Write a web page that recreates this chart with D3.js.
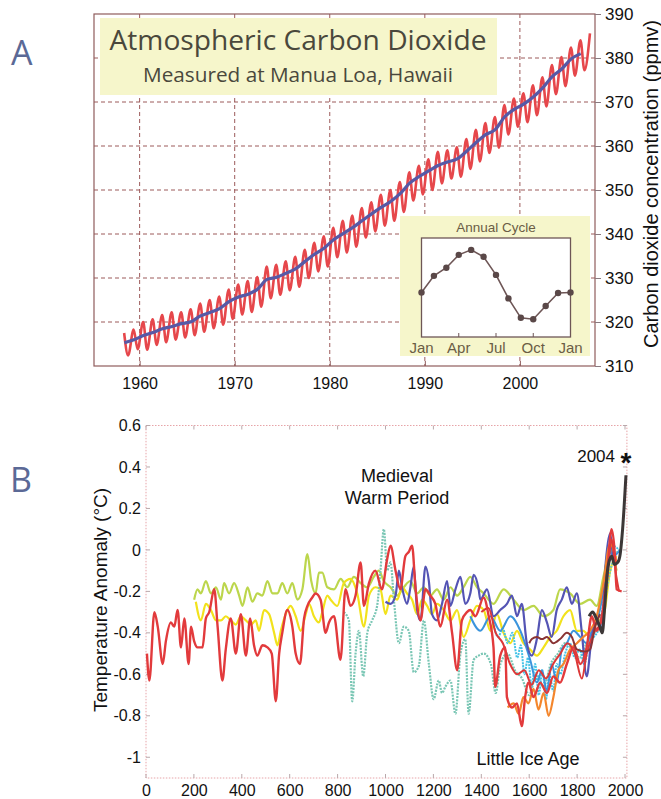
<!DOCTYPE html>
<html>
<head>
<meta charset="utf-8">
<script src="https://cdn.jsdelivr.net/npm/d3@7"></script>
<style>
body { margin: 0; background: #fff; }
svg text { font-family: "Liberation Sans", Arial, sans-serif; }
</style>
</head>
<body>
<div id="chart"></div>
<script>
// ---------- panel A data (Mauna Loa CO2, ppmv) ----------
let co2Years = [1958,1959,1960,1961,1962,1963,1964,1965,1966,1967,1968,1969,1970,1971,1972,1973,1974,1975,1976,1977,
    1978,1979,1980,1981,1982,1983,1984,1985,1986,1987,1988,1989,1990,1991,1992,1993,1994,1995,1996,1997,
    1998,1999,2000,2001,2002,2003,2004,2005,2006];
let co2Annual = [315.3,315.97,316.91,317.64,318.45,318.99,319.62,320.04,321.38,322.16,323.04,324.62,325.68,326.32,327.45,329.68,330.18,331.08,332.05,333.78,
    335.41,336.78,338.68,340.10,341.44,343.03,344.58,346.04,347.39,349.16,351.56,353.07,354.35,355.57,356.38,357.07,358.82,360.80,362.59,363.71,
    366.65,368.33,369.52,371.13,373.22,375.77,377.49,379.80,381.00];

// seasonal high (May) and low (Oct) of the monthly record
let seasonYears = [1958,1959,1960,1961,1962,1963,1964,1965,1966,1967,1968,1969,1970,1971,1972,1973,1974,1975,1976,1977,
    1978,1979,1980,1981,1982,1983,1984,1985,1986,1987,1988,1989,1990,1991,1992,1993,1994,1995,1996,1997,
    1998,1999,2000,2001,2002,2003,2004,2005,2006,2007];
let seasonHigh = [317.5,318.3,320.0,320.6,321.6,322.2,322.2,322.9,324.2,325.0,325.8,327.4,328.5,329.3,330.2,332.6,333.0,333.8,334.8,336.4,
    338.0,339.5,341.4,343.0,344.2,345.9,347.2,348.9,350.0,351.8,354.0,355.5,357.0,358.7,359.0,359.7,361.6,363.7,365.2,366.6,
    369.3,370.8,372.0,373.8,375.6,378.4,380.2,382.4,384.0,385.6];
let seasonLow = [312.4,313.8,313.7,314.8,315.4,316.0,316.5,317.0,317.8,318.6,319.4,320.7,321.7,322.3,323.5,325.4,326.2,327.2,328.0,330.0,
    331.5,332.6,334.7,335.8,337.1,339.2,340.6,341.9,343.0,345.0,347.6,349.0,350.0,351.5,352.6,353.0,354.8,356.5,358.4,359.6,
    362.6,364.4,365.4,367.0,369.0,371.8,373.6,376.0,377.2,null];

let co2Ticks = [310,320,330,340,350,360,370,380,390];
let yearTicks = [1960,1970,1980,1990,2000];

// annual cycle inset (ppmv anomaly, Jan .. next Jan)
let cycleMonths = [0,1,2,3,4,5,6,7,8,9,10,11,12];
let cycleValues = [-0.4,0.94,1.6,2.64,3.04,2.48,1.02,-0.88,-2.45,-2.56,-1.49,-0.45,-0.4];
let cycleLabels = ["Jan","Apr","Jul","Oct","Jan"];
let cycleLabelMonths = [0,3,6,9,12];

// ---------- panel B data (temperature anomaly, deg C) ----------
let yellowGreen = [[201,-0.24],[215,-0.19],[229,-0.21],[250,-0.15],[271,-0.21],[292,-0.18],[313,-0.24],[326,-0.16],[347,-0.21],[368,-0.16],
    [389,-0.22],[403,-0.27],[424,-0.18],[444,-0.25],[465,-0.21],[486,-0.22],[507,-0.15],[528,-0.21],[549,-0.21],[569,-0.16],
    [590,-0.21],[611,-0.16],[632,-0.24],[653,-0.19],[674,-0.02],[690,-0.15],[708,-0.21],[722,-0.11],[736,-0.11],[757,-0.18],
    [785,-0.19],[813,-0.14],[840,-0.18],[868,-0.13],[896,-0.16],[924,-0.18],[951,-0.13],[972,-0.10],[993,-0.15],[1021,-0.18],
    [1049,-0.22],[1076,-0.18],[1104,-0.15],[1132,-0.21],[1160,-0.18],[1188,-0.22],[1215,-0.19],[1243,-0.24],[1271,-0.18],[1299,-0.22],
    [1326,-0.18],[1354,-0.13],[1382,-0.18],[1410,-0.21],[1451,-0.26],[1493,-0.19],[1535,-0.24],[1576,-0.29],[1618,-0.27],[1660,-0.32],
    [1701,-0.29],[1729,-0.19],[1771,-0.21],[1813,-0.26],[1854,-0.24],[1882,-0.27],[1910,-0.13],[1938,0.0],[1965,-0.10]];
let yellow = [[208,-0.25],[229,-0.34],[250,-0.26],[271,-0.29],[292,-0.34],[313,-0.34],[333,-0.32],[354,-0.34],[375,-0.36],[396,-0.32],
    [417,-0.34],[438,-0.36],[458,-0.34],[472,-0.39],[493,-0.29],[514,-0.31],[535,-0.40],[549,-0.46],[563,-0.39],[583,-0.31],
    [604,-0.27],[625,-0.32],[646,-0.39],[667,-0.31],[681,-0.26],[701,-0.32],[722,-0.35],[736,-0.30],[757,-0.22],[771,-0.24],
    [799,-0.27],[826,-0.16],[854,-0.14],[882,-0.21],[910,-0.37],[931,-0.22],[958,-0.18],[979,-0.19],[1000,-0.31],[1021,-0.22],
    [1049,-0.24],[1069,-0.18],[1090,-0.21],[1111,-0.24],[1132,-0.31],[1153,-0.24],[1174,-0.27],[1194,-0.31],[1215,-0.26],[1243,-0.29],
    [1271,-0.34],[1299,-0.29],[1326,-0.42],[1354,-0.34],[1382,-0.27],[1410,-0.29],[1438,-0.39],[1465,-0.31],[1493,-0.40],[1521,-0.45],
    [1549,-0.39],[1576,-0.45],[1604,-0.48],[1632,-0.51],[1660,-0.47],[1688,-0.42],[1715,-0.39],[1743,-0.32],[1771,-0.29],[1799,-0.39],
    [1826,-0.39],[1854,-0.42],[1882,-0.35],[1910,-0.32],[1938,-0.10],[1965,-0.03]];
let teal = [[826,-0.30],[847,-0.34],[861,-0.73],[875,-0.50],[889,-0.39],[907,-0.61],[924,-0.40],[944,-0.34],[965,-0.27],[979,-0.10],
    [993,0.10],[1007,-0.10],[1021,-0.06],[1035,-0.24],[1056,-0.45],[1076,-0.37],[1097,-0.39],[1118,-0.59],[1139,-0.56],[1160,-0.34],
    [1181,-0.55],[1201,-0.72],[1222,-0.63],[1236,-0.69],[1250,-0.66],[1271,-0.63],[1292,-0.79],[1313,-0.50],[1333,-0.43],[1347,-0.79],
    [1368,-0.53],[1389,-0.51],[1410,-0.50],[1440,-0.55],[1460,-0.69],[1480,-0.55],[1510,-0.50],[1540,-0.58],[1570,-0.62],[1600,-0.70],
    [1630,-0.60],[1660,-0.66],[1690,-0.55],[1720,-0.50],[1750,-0.45],[1780,-0.48],[1810,-0.52],[1840,-0.45],[1870,-0.40],[1900,-0.38],
    [1925,-0.18],[1950,-0.05],[1978,0.0]];
let cyan = [[1450,-0.35],[1470,-0.42],[1490,-0.38],[1510,-0.45],[1530,-0.40],[1550,-0.52],[1565,-0.46],[1580,-0.60],[1595,-0.52],[1610,-0.66],
    [1625,-0.55],[1640,-0.70],[1655,-0.58],[1670,-0.72],[1685,-0.60],[1700,-0.68],[1715,-0.55],[1730,-0.60],[1750,-0.50],[1770,-0.45],
    [1790,-0.52],[1810,-0.48],[1830,-0.55],[1850,-0.45],[1870,-0.42],[1890,-0.38],[1910,-0.25],[1930,-0.05],[1950,0.02],[1975,0.0]];
let lightBlue = [[1354,-0.32],[1396,-0.39],[1438,-0.32],[1479,-0.39],[1521,-0.32],[1563,-0.39],[1604,-0.53],[1632,-0.64],[1653,-0.58],[1674,-0.68],
    [1694,-0.55],[1715,-0.64],[1736,-0.48],[1757,-0.45],[1785,-0.39],[1813,-0.42],[1840,-0.45],[1861,-0.39],[1889,-0.32],[1910,-0.19],
    [1931,0.0],[1951,-0.03],[1979,0.0]];
let purple = [[1000,-0.25],[1021,-0.26],[1042,-0.22],[1056,-0.10],[1069,-0.18],[1090,-0.26],[1104,-0.18],[1118,-0.08],[1132,-0.29],[1146,-0.34],
    [1167,-0.08],[1181,-0.15],[1194,-0.31],[1215,-0.34],[1236,-0.26],[1257,-0.15],[1271,-0.27],[1292,-0.19],[1313,-0.13],[1333,-0.26],
    [1354,-0.21],[1368,-0.12],[1389,-0.19],[1396,-0.24],[1424,-0.19],[1451,-0.32],[1479,-0.29],[1507,-0.26],[1528,-0.22],[1549,-0.32],
    [1569,-0.26],[1590,-0.45],[1611,-0.51],[1632,-0.43],[1653,-0.29],[1674,-0.35],[1694,-0.42],[1715,-0.29],[1736,-0.24],[1757,-0.18],
    [1778,-0.26],[1799,-0.21],[1819,-0.39],[1840,-0.61],[1861,-0.42],[1882,-0.35],[1903,-0.39],[1917,-0.10],[1938,0.08],[1951,-0.03],
    [1972,-0.06]];
let orange = [[1510,-0.76],[1535,-0.74],[1556,-0.79],[1576,-0.71],[1597,-0.74],[1618,-0.67],[1639,-0.77],[1660,-0.69],[1681,-0.80],[1701,-0.71],
    [1722,-0.58],[1743,-0.55],[1771,-0.48],[1799,-0.45],[1826,-0.42],[1854,-0.39],[1882,-0.32],[1910,-0.16],[1938,0.03],[1965,-0.06]];
let red2 = [[1400,-0.30],[1430,-0.28],[1460,-0.40],[1490,-0.45],[1520,-0.55],[1550,-0.60],[1580,-0.58],[1610,-0.65],[1640,-0.58],[1670,-0.62],
    [1700,-0.55],[1730,-0.50],[1760,-0.45],[1790,-0.50],[1820,-0.62],[1840,-0.50],[1870,-0.40],[1900,-0.35],[1925,-0.15],[1945,0.05],
    [1960,-0.10],[1975,-0.20]];
let red = [[4,-0.50],[14,-0.63],[35,-0.30],[49,-0.37],[70,-0.55],[83,-0.44],[104,-0.35],[118,-0.37],[132,-0.29],[146,-0.47],
    [160,-0.33],[178,-0.55],[188,-0.37],[201,-0.44],[215,-0.47],[236,-0.47],[250,-0.33],[264,-0.30],[285,-0.19],[299,-0.37],
    [319,-0.63],[333,-0.48],[354,-0.33],[375,-0.50],[396,-0.31],[417,-0.51],[435,-0.33],[451,-0.46],[465,-0.51],[486,-0.46],
    [507,-0.47],[525,-0.50],[542,-0.73],[556,-0.50],[569,-0.40],[590,-0.29],[611,-0.37],[625,-0.50],[643,-0.55],[660,-0.33],
    [674,-0.27],[694,-0.23],[708,-0.21],[729,-0.24],[750,-0.40],[764,-0.35],[785,-0.32],[812,-0.53],[833,-0.19],[854,-0.27],
    [875,-0.22],[896,-0.06],[910,-0.27],[931,-0.16],[958,-0.10],[985,-0.19],[1006,-0.05],[1021,0.02],[1042,-0.10],[1062,-0.19],
    [1083,-0.03],[1097,-0.01],[1111,0.02],[1125,-0.18],[1146,-0.34],[1167,-0.19],[1187,-0.22],[1208,-0.26],[1229,-0.37],[1257,-0.24],
    [1278,-0.40],[1299,-0.58],[1319,-0.34],[1340,-0.30],[1354,-0.29],[1375,-0.32],[1410,-0.23],[1431,-0.32],[1451,-0.47],[1458,-0.66],
    [1479,-0.51],[1500,-0.47],[1507,-0.71],[1528,-0.76],[1549,-0.74],[1569,-0.85],[1583,-0.71],[1597,-0.64],[1618,-0.71],[1646,-0.64],
    [1674,-0.69],[1701,-0.61],[1729,-0.64],[1757,-0.55],[1785,-0.47],[1813,-0.55],[1840,-0.47],[1861,-0.32],[1882,-0.39],[1903,-0.32],
    [1924,-0.13],[1944,0.10],[1958,-0.03],[1965,-0.19],[1986,-0.20]];
let darkBrown = [[1600,-0.45],[1611,-0.43],[1632,-0.42],[1653,-0.43],[1674,-0.42],[1701,-0.45],[1729,-0.43],[1757,-0.40],[1778,-0.42],[1799,-0.48],
    [1833,-0.49],[1854,-0.48],[1875,-0.37],[1896,-0.31]];
let instrumental = [[1850,-0.32],[1865,-0.30],[1880,-0.33],[1895,-0.37],[1905,-0.40],[1915,-0.28],[1925,-0.12],[1935,-0.05],[1945,-0.03],[1955,-0.07],
    [1970,-0.06],[1980,-0.02],[1990,0.10],[2004,0.36]];

let tempTicks = [0.6,0.4,0.2,0,-0.2,-0.4,-0.6,-0.8,-1];
let tempTickLabels = ["0.6","0.4","0.2","0","-0.2","-0.4","-0.6","-0.8","-1"];
let milleniumTicks = [0,200,400,600,800,1000,1200,1400,1600,1800,2000];

let svg = d3.select("#chart")
    .append("svg")
    .attr("width", 661)
    .attr("height", 799);

// =================== panel A ===================
let xA = d3.scaleLinear().domain([1955.2, 2007.9]).range([94, 595]);
let yA = d3.scaleLinear().domain([310, 390]).range([366, 14]);

svg.append("text")
    .attr("x", 11).attr("y", 65)
    .style("font-family", "'Open Sans', sans-serif")
    .style("font-size", "34px")
    .attr("fill", "#5b6996")
    .text("A");

// dashed grid
yearTicks.forEach(t =>
    svg.append("line")
    .attr("x1", xA(t)).attr("x2", xA(t))
    .attr("y1", yA(390)).attr("y2", yA(310))
    .attr("stroke", "#9c5a5a")
    .attr("stroke-dasharray", "4,3")
    .attr("stroke-width", 1)
);
co2Ticks.slice(1, -1).forEach(t =>
    svg.append("line")
    .attr("x1", xA.range()[0]).attr("x2", xA.range()[1])
    .attr("y1", yA(t)).attr("y2", yA(t))
    .attr("stroke", "#9c5a5a")
    .attr("stroke-dasharray", "4,3")
    .attr("stroke-width", 1)
);

// title box
svg.append("rect")
    .attr("x", 100).attr("y", 18)
    .attr("width", 397).attr("height", 77)
    .attr("fill", "#f6f6cb");
svg.append("text")
    .attr("x", 298).attr("y", 50)
    .attr("text-anchor", "middle")
    .style("font-family", "'Open Sans', sans-serif")
    .style("font-size", "27px")
    .attr("fill", "#4a483c")
    .attr("textLength", 377)
    .attr("lengthAdjust", "spacingAndGlyphs")
    .text("Atmospheric Carbon Dioxide");
svg.append("text")
    .attr("x", 298).attr("y", 82)
    .attr("text-anchor", "middle")
    .style("font-family", "'Open Sans', sans-serif")
    .style("font-size", "20px")
    .attr("fill", "#4a483c")
    .attr("textLength", 310)
    .attr("lengthAdjust", "spacingAndGlyphs")
    .text("Measured at Manua Loa, Hawaii");

// frame
svg.append("rect")
    .attr("x", xA.range()[0]).attr("y", yA(390))
    .attr("width", xA.range()[1] - xA.range()[0])
    .attr("height", yA(310) - yA(390))
    .attr("fill", "none")
    .attr("stroke", "#8f5c5c")
    .attr("stroke-width", 1.2);

// monthly record (seasonal zigzag)
let redPts = [];
seasonYears.forEach((yr, i) => {
    redPts.push([yr + 0.37, seasonHigh[i]]);
    if (seasonLow[i] != null) redPts.push([yr + 0.79, seasonLow[i]]);
});
let lineA = d3.line()
    .x(d => xA(d[0]))
    .y(d => yA(d[1]))
    .curve(d3.curveMonotoneX);

svg.append("path")
    .datum(redPts)
    .attr("d", lineA)
    .attr("fill", "none")
    .attr("stroke", "#e6474b")
    .attr("stroke-width", 2.6)
    .attr("stroke-linejoin", "round");

svg.append("path")
    .datum(co2Years.map((yr, i) => [yr + 0.4, co2Annual[i]]))
    .attr("d", lineA)
    .attr("fill", "none")
    .attr("stroke", "#5759a6")
    .attr("stroke-width", 3.2)
    .attr("stroke-linejoin", "round");

// axes
let axisRightA = svg.append("g")
    .attr("transform", "translate(" + xA.range()[1] + ",0)")
    .call(d3.axisRight(yA).tickValues(co2Ticks).tickSize(6).tickPadding(4));
axisRightA.select(".domain").remove();
axisRightA.selectAll("line").attr("stroke", "#8a7a80");
axisRightA.selectAll("text")
    .style("font-size", "17px")
    .attr("fill", "#111");

let axisBottomA = svg.append("g")
    .attr("transform", "translate(0," + yA(310) + ")")
    .call(d3.axisBottom(xA).tickValues(yearTicks).tickFormat(d3.format("d")).tickSize(-5).tickPadding(12));
axisBottomA.select(".domain").remove();
axisBottomA.selectAll("line").attr("stroke", "#8f5c5c");
axisBottomA.selectAll("text")
    .style("font-size", "16px")
    .attr("fill", "#111");

svg.append("text")
    .attr("transform", "translate(651,184) rotate(-90)")
    .attr("text-anchor", "middle")
    .attr("dominant-baseline", "central")
    .style("font-size", "20px")
    .attr("fill", "#111")
    .text("Carbon dioxide concentration (ppmv)");

// inset: annual cycle
let xI = d3.scaleLinear().domain([0, 12]).range([421.5, 570.5]);
let yI = d3.scaleLinear().domain([-4, 4]).range([337, 238]);

svg.append("rect")
    .attr("x", 400).attr("y", 216)
    .attr("width", 190).attr("height", 140)
    .attr("fill", "#f6f6cb");
svg.append("rect")
    .attr("x", xI(0)).attr("y", yI(4))
    .attr("width", xI(12) - xI(0))
    .attr("height", yI(-4) - yI(4))
    .attr("fill", "#fff")
    .attr("stroke", "#6e5656")
    .attr("stroke-width", 1.3);
svg.append("text")
    .attr("x", (xI(0) + xI(12)) / 2).attr("y", 232)
    .attr("text-anchor", "middle")
    .style("font-size", "13.5px")
    .attr("fill", "#6b5d45")
    .text("Annual Cycle");

cycleLabelMonths.slice(1, -1).forEach(m =>
    svg.append("line")
    .attr("x1", xI(m)).attr("x2", xI(m))
    .attr("y1", yI(-4)).attr("y2", yI(-4) - 4)
    .attr("stroke", "#6e5656")
);
cycleLabelMonths.forEach((m, i) =>
    svg.append("text")
    .attr("x", xI(m)).attr("y", 353)
    .attr("text-anchor", "middle")
    .style("font-size", "15px")
    .attr("fill", "#6b5d45")
    .text(cycleLabels[i])
);

svg.append("path")
    .datum(cycleMonths.map((m, i) => [m, cycleValues[i]]))
    .attr("d", d3.line().x(d => xI(d[0])).y(d => yI(d[1])))
    .attr("fill", "none")
    .attr("stroke", "#6e5656")
    .attr("stroke-width", 1.6);
svg.selectAll(".cycle-dot")
    .data(cycleMonths)
    .enter()
    .append("circle")
    .attr("cx", (d, i) => xI(d))
    .attr("cy", (d, i) => yI(cycleValues[i]))
    .attr("r", 3.2)
    .attr("fill", "#5a4848");

// =================== panel B ===================
let xB = d3.scaleLinear().domain([0, 2000]).range([146, 625]);
let yB = d3.scaleLinear().domain([-1.1, 0.6]).range([778, 425.5]);

svg.append("text")
    .attr("x", 10).attr("y", 492)
    .style("font-family", "'Open Sans', sans-serif")
    .style("font-size", "34px")
    .attr("fill", "#5b6996")
    .text("B");

// frame (dotted)
svg.append("rect")
    .attr("x", xB(0)).attr("y", yB(0.6))
    .attr("width", xB(2008) - xB(0))
    .attr("height", yB(-1.1) - yB(0.6))
    .attr("fill", "none")
    .attr("stroke", "#e7a4a8")
    .attr("stroke-dasharray", "1.5,1.5")
    .attr("stroke-width", 1);

milleniumTicks.forEach(t => {
    svg.append("line")
        .attr("x1", xB(t)).attr("x2", xB(t))
        .attr("y1", yB(-1.1)).attr("y2", yB(-1.1) - 4)
        .attr("stroke", "#b9a8ab");
    svg.append("line")
        .attr("x1", xB(t)).attr("x2", xB(t))
        .attr("y1", yB(0.6)).attr("y2", yB(0.6) + 4)
        .attr("stroke", "#b9a8ab");
});
tempTicks.forEach(t => {
    svg.append("line")
        .attr("x1", xB(0)).attr("x2", xB(0) + 4)
        .attr("y1", yB(t)).attr("y2", yB(t))
        .attr("stroke", "#b9a8ab");
    svg.append("line")
        .attr("x1", xB(2008)).attr("x2", xB(2008) - 4)
        .attr("y1", yB(t)).attr("y2", yB(t))
        .attr("stroke", "#b9a8ab");
});

let axisLeftB = svg.append("g")
    .attr("transform", "translate(" + xB(0) + ",0)")
    .call(d3.axisLeft(yB).tickValues(tempTicks).tickFormat((d, i) => tempTickLabels[i]).tickSize(0).tickPadding(5));
axisLeftB.select(".domain").remove();
axisLeftB.selectAll("text")
    .style("font-size", "16px")
    .attr("fill", "#111");

let axisBottomB = svg.append("g")
    .attr("transform", "translate(0," + yB(-1.1) + ")")
    .call(d3.axisBottom(xB).tickValues(milleniumTicks).tickFormat(d3.format("d")).tickSize(0).tickPadding(7));
axisBottomB.select(".domain").remove();
axisBottomB.selectAll("text")
    .style("font-size", "16px")
    .attr("fill", "#111");

svg.append("text")
    .attr("transform", "translate(100,600) rotate(-90)")
    .attr("text-anchor", "middle")
    .attr("dominant-baseline", "central")
    .style("font-size", "19px")
    .attr("fill", "#111")
    .text("Temperature Anomaly (°C)");

let lineB = d3.line()
    .x(d => xB(d[0]))
    .y(d => yB(d[1]))
    .curve(d3.curveMonotoneX);

let reconstructions = [
    {data: yellowGreen, color: "#bcd64c", width: 2.2, dash: null},
    {data: yellow, color: "#f2e21c", width: 2.2, dash: null},
    {data: teal, color: "#79c6b4", width: 2.2, dash: "2,1.2"},
    {data: cyan, color: "#45c3e6", width: 2, dash: "2,1"},
    {data: lightBlue, color: "#3b94dc", width: 2, dash: null},
    {data: purple, color: "#5454b4", width: 2.2, dash: null},
    {data: orange, color: "#f4862c", width: 2.2, dash: null},
    {data: red2, color: "#dc3838", width: 2, dash: null},
    {data: red, color: "#e23a3c", width: 2.4, dash: null},
    {data: darkBrown, color: "#8a3434", width: 2, dash: null},
    {data: instrumental, color: "#3d3737", width: 3, dash: null}
];

reconstructions.forEach(s =>
    svg.append("path")
    .datum(s.data)
    .attr("d", lineB)
    .attr("fill", "none")
    .attr("stroke", s.color)
    .attr("stroke-width", s.width)
    .attr("stroke-dasharray", s.dash)
    .attr("stroke-linejoin", "round")
);

// annotations
svg.append("text")
    .attr("x", 397).attr("y", 482)
    .attr("text-anchor", "middle")
    .style("font-size", "18px")
    .attr("fill", "#111")
    .text("Medieval");
svg.append("text")
    .attr("x", 397).attr("y", 504)
    .attr("text-anchor", "middle")
    .style("font-size", "18px")
    .attr("fill", "#111")
    .text("Warm Period");
svg.append("text")
    .attr("x", 615).attr("y", 462)
    .attr("text-anchor", "end")
    .style("font-size", "17px")
    .attr("fill", "#111")
    .text("2004");
svg.append("text")
    .attr("x", xB(2004)).attr("y", 472)
    .attr("text-anchor", "middle")
    .style("font-size", "28px")
    .style("font-weight", "bold")
    .attr("fill", "#111")
    .text("*");
svg.append("text")
    .attr("x", 528).attr("y", 765)
    .attr("text-anchor", "middle")
    .style("font-size", "18px")
    .attr("fill", "#111")
    .text("Little Ice Age");
</script>
</body>
</html>
